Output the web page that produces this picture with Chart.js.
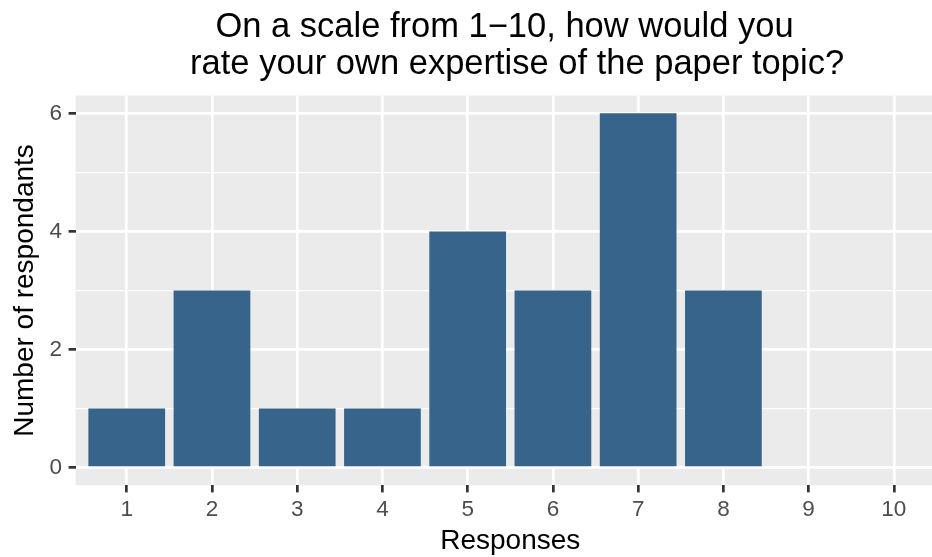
<!DOCTYPE html>
<html>
<head>
<meta charset="utf-8">
<script src="https://cdn.jsdelivr.net/npm/chart.js@4/dist/chart.umd.min.js"></script>
<style>
  html, body { margin: 0; padding: 0; overflow: hidden; background: #ffffff; width: 932px; height: 557px; }
  #wrap { position: absolute; left: 0; top: 0; width: 945px; height: 557px; }
</style>
</head>
<body>
<div id="wrap"><canvas id="chart" width="945" height="557"></canvas></div>
<script>
// Survey answers: self-rated expertise (1-10) and how many respondents gave each rating
const RESPONSES = [1, 2, 3, 4, 5, 6, 7, 8, 9, 10];
const RESPONDENTS = [1, 3, 1, 1, 4, 3, 6, 3, 0, 0];

// Axis ticks
const X_TICKS = [1, 2, 3, 4, 5, 6, 7, 8, 9, 10];
const Y_MAJOR = [0, 2, 4, 6];
const Y_MINOR = [1, 3, 5];

// Text
const TITLE_LINES = ['On a scale from 1\u221210, how would you ', ' rate your own expertise of the paper topic?'];
const X_TITLE = 'Responses';
const Y_TITLE = 'Number of respondants';

const FONT = '"Liberation Sans", Arial, sans-serif';
const PANEL_BG = '#EBEBEB';
const BAR_COLOR = '#36648B';
const TICK_TEXT = '#4D4D4D';
const TICK_MARK = '#333333';
const MAJOR_W = 2.7;
const MINOR_W = 1.35;

// Grey panel behind the grid
const panelBackground = {
  id: 'panelBackground',
  beforeDraw(chart) {
    const { ctx, chartArea: a } = chart;
    ctx.save();
    ctx.fillStyle = PANEL_BG;
    ctx.fillRect(a.left, a.top, a.right - a.left, a.bottom - a.top);
    ctx.restore();
  }
};

// Plot title and x-axis title, centred on the panel
const plotTexts = {
  id: 'plotTexts',
  afterDraw(chart) {
    const { ctx, chartArea: a } = chart;
    const cx = (a.left + a.right) / 2;
    ctx.save();
    ctx.fillStyle = '#000000';
    ctx.textAlign = 'center';
    ctx.textBaseline = 'alphabetic';
    ctx.font = '34.5px ' + FONT;
    ctx.fillText(TITLE_LINES[0], cx - 1, 36.5);
    ctx.fillText(TITLE_LINES[1], cx + 2, 74);
    ctx.font = '28px ' + FONT;
    ctx.fillText(X_TITLE, cx, 548.5);
    ctx.restore();
  }
};

const isMajorY = (v) => Y_MAJOR.includes(v);

new Chart(document.getElementById('chart'), {
  type: 'bar',
  data: {
    datasets: [{
      data: RESPONSES.map((r, i) => ({ x: r, y: RESPONDENTS[i] })),
      backgroundColor: BAR_COLOR,
      borderWidth: 0,
      categoryPercentage: 1.0,
      barPercentage: 0.9
    }]
  },
  options: {
    responsive: false,
    animation: false,
    devicePixelRatio: 1,
    layout: { padding: { top: 95.6, left: 0, right: 0, bottom: 0 } },
    plugins: {
      legend: { display: false },
      tooltip: { enabled: false },
      title: { display: false }
    },
    scales: {
      x: {
        type: 'linear',
        bounds: 'data',
        offset: false,
        min: 0.4,
        max: 10.6,
        afterBuildTicks: (s) => { s.ticks = X_TICKS.map(v => ({ value: v })); },
        afterFit: (s) => { s.height = 557 - 485.4; },
        ticks: {
          autoSkip: false,
          maxRotation: 0,
          padding: 4,
          color: TICK_TEXT,
          font: { family: FONT, size: 22.5 },
          callback: (v) => String(v)
        },
        grid: {
          offset: false,
          color: '#ffffff',
          lineWidth: MAJOR_W,
          tickColor: TICK_MARK,
          tickWidth: MAJOR_W,
          tickLength: 7
        },
        border: { display: false }
      },
      y: {
        type: 'linear',
        bounds: 'data',
        min: -0.3,
        max: 6.3,
        afterBuildTicks: (s) => {
          s.ticks = [...Y_MAJOR, ...Y_MINOR].sort((a, b) => a - b).map(v => ({ value: v }));
        },
        afterFit: (s) => { s.width = 75.6; },
        ticks: {
          autoSkip: false,
          padding: 6.5,
          color: TICK_TEXT,
          font: { family: FONT, size: 22.5 },
          callback: (v) => (isMajorY(v) ? String(v) : '')
        },
        grid: {
          color: '#ffffff',
          lineWidth: (ctx) => (ctx.tick && !isMajorY(ctx.tick.value) ? MINOR_W : MAJOR_W),
          tickColor: (ctx) => (ctx.tick && !isMajorY(ctx.tick.value) ? 'rgba(0,0,0,0)' : TICK_MARK),
          tickWidth: MAJOR_W,
          tickLength: 7
        },
        border: { display: false },
        title: {
          display: true,
          text: Y_TITLE,
          color: '#000000',
          font: { family: FONT, size: 28, lineHeight: 1 },
          padding: { top: 11.3, bottom: 0 }
        }
      }
    }
  },
  plugins: [panelBackground, plotTexts]
});
</script>
</body>
</html>
